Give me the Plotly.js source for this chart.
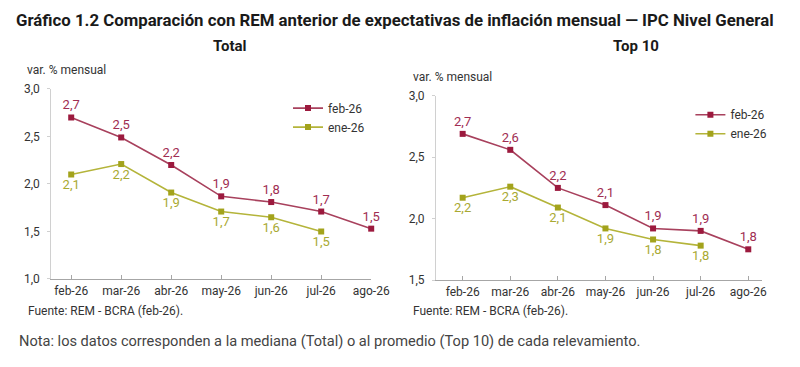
<!DOCTYPE html>
<html>
<head>
<meta charset="utf-8">
<script src="https://cdn.plot.ly/plotly-3.0.1.min.js"></script>
<style>html,body{margin:0;padding:0;background:#fff;}</style>
</head>
<body>
<div id="chart" style="width:800px;height:367px;"></div>
<script>
const months = ["feb-26","mar-26","abr-26","may-26","jun-26","jul-26","ago-26"];
const monthsEne = ["feb-26","mar-26","abr-26","may-26","jun-26","jul-26"];

// Total
const totalFeb = [2.70, 2.49, 2.20, 1.87, 1.81, 1.71, 1.53];
const totalFebLabels = ["2,7","2,5","2,2","1,9","1,8","1,7","1,5"];
const totalEne = [2.10, 2.21, 1.91, 1.71, 1.65, 1.50];
const totalEneLabels = ["2,1","2,2","1,9","1,7","1,6","1,5"];

// Top 10
const topFeb = [2.69, 2.56, 2.25, 2.11, 1.92, 1.90, 1.75];
const topFebLabels = ["2,7","2,6","2,2","2,1","1,9","1,9","1,8"];
const topEne = [2.17, 2.26, 2.09, 1.92, 1.83, 1.78];
const topEneLabels = ["2,2","2,3","2,1","1,9","1,8","1,8"];

const cFeb = "#9c1a3e", cFebLine = "#a8415d", cFebText = "#a02d52";
const cEne = "#a3a31c", cEneLine = "#b4b43a", cEneText = "#a9a932";
const FONT = "Roboto, 'Noto Sans', sans-serif";

function tr(x, y, labels, name, xa, ya, color, lineColor, textColor, pos, legend, showlegend) {
  return {
    x: x, y: y, text: labels, name: name, type: "scatter", mode: "lines+markers+text",
    xaxis: xa, yaxis: ya, legend: legend, showlegend: showlegend,
    line: {color: lineColor, width: 1.6},
    marker: {symbol: "square", size: 6, color: color},
    textposition: pos, textfont: {family: FONT, size: 13, color: textColor},
    cliponaxis: false, hoverinfo: "skip"
  };
}

const data = [
  tr(months, totalFeb, totalFebLabels, "feb-26", "x", "y", cFeb, cFebLine, cFebText, "top center", "legend", true),
  tr(monthsEne, totalEne, totalEneLabels, "ene-26", "x", "y", cEne, cEneLine, cEneText, "bottom center", "legend", true),
  tr(months, topFeb, topFebLabels, "feb-26", "x2", "y2", cFeb, cFebLine, cFebText, "top center", "legend2", true),
  tr(monthsEne, topEne, topEneLabels, "ene-26", "x2", "y2", cEne, cEneLine, cEneText, "bottom center", "legend2", true)
];

const xCommon = {
  type: "category", showgrid: false, zeroline: false, showline: true,
  linecolor: "#a6a6a6", linewidth: 1.2, ticks: "inside", ticklen: 4, tickcolor: "#a6a6a6",
  tickfont: {family: FONT, size: 12, color: "#333"}, fixedrange: true
};
const yCommon = {
  showgrid: false, zeroline: false, showline: true, linecolor: "#d0d0d0", linewidth: 1,
  ticks: "outside", ticklen: 3, tickcolor: "#d0d0d0", dtick: 0.5, tickformat: ".1f",
  ticklabelstandoff: 5,
  tickfont: {family: FONT, size: 12, color: "#333"}, fixedrange: true
};

const layout = {
  width: 800, height: 367, margin: {l: 0, r: 0, t: 0, b: 0},
  paper_bgcolor: "#fff", plot_bgcolor: "#fff", separators: ",.",
  font: {family: FONT, color: "#333"},
  xaxis: Object.assign({}, xCommon, {domain: [0.064, 0.464], range: [-0.4, 6.0], anchor: "y"}),
  yaxis: Object.assign({}, yCommon, {domain: [0.2398, 0.7575], range: [1.0, 3.0], anchor: "x"}),
  xaxis2: Object.assign({}, xCommon, {domain: [0.545, 0.952], range: [-0.56, 6.28], anchor: "y2"}),
  yaxis2: Object.assign({}, yCommon, {domain: [0.237, 0.739], range: [1.5, 3.0], anchor: "x2"}),
  legend: {x: 0.36, y: 0.745, xanchor: "left", yanchor: "top", bgcolor: "rgba(0,0,0,0)",
           font: {family: FONT, size: 12, color: "#333"}, tracegroupgap: 0},
  legend2: {x: 0.863, y: 0.727, xanchor: "left", yanchor: "top", bgcolor: "rgba(0,0,0,0)",
           font: {family: FONT, size: 12, color: "#333"}, tracegroupgap: 0},
  annotations: [
    {text: "<b>Gráfico 1.2 Comparación con REM anterior de expectativas de inflación mensual — IPC Nivel General</b>",
     xref: "paper", yref: "paper", x: 0.494, y: 1 - 20/367, xanchor: "center", yanchor: "middle",
     showarrow: false, font: {family: FONT, size: 16.8, color: "#1a1a1a"}},
    {text: "<b>Total</b>", xref: "paper", yref: "paper", x: 230/800, y: 1 - 46/367, xanchor: "center", yanchor: "middle",
     showarrow: false, font: {family: FONT, size: 15, color: "#1a1a1a"}},
    {text: "<b>Top 10</b>", xref: "paper", yref: "paper", x: 636/800, y: 1 - 46/367, xanchor: "center", yanchor: "middle",
     showarrow: false, font: {family: FONT, size: 15, color: "#1a1a1a"}},
    {text: "var. % mensual", xref: "paper", yref: "paper", x: 25/800, y: 1 - 70/367, xanchor: "left", yanchor: "middle",
     showarrow: false, font: {family: FONT, size: 12, color: "#333"}},
    {text: "var. % mensual", xref: "paper", yref: "paper", x: 411/800, y: 1 - 77/367, xanchor: "left", yanchor: "middle",
     showarrow: false, font: {family: FONT, size: 12, color: "#333"}},
    {text: "Fuente: REM - BCRA (feb-26).", xref: "paper", yref: "paper", x: 26/800, y: 1 - 311/367, xanchor: "left", yanchor: "middle",
     showarrow: false, font: {family: FONT, size: 12, color: "#333"}},
    {text: "Fuente: REM - BCRA (feb-26).", xref: "paper", yref: "paper", x: 411/800, y: 1 - 311/367, xanchor: "left", yanchor: "middle",
     showarrow: false, font: {family: FONT, size: 12, color: "#333"}},
    {text: "Nota: los datos corresponden a la mediana (Total) o al promedio (Top 10) de cada relevamiento.",
     xref: "paper", yref: "paper", x: 17/800, y: 1 - 341/367, xanchor: "left", yanchor: "middle",
     showarrow: false, font: {family: FONT, size: 14.6, color: "#444"}}
  ]
};

Plotly.newPlot("chart", data, layout, {displayModeBar: false, staticPlot: true});
</script>
</body>
</html>
